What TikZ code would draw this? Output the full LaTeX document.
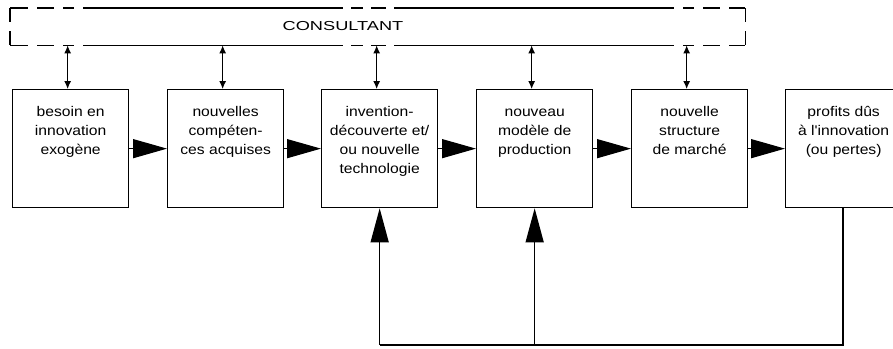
\documentclass[tikz,border=0pt]{standalone}
\usepackage{fontspec}
\setmainfont{Liberation Sans}
\newfontfamily\boxfont[FakeStretch=1.12]{Liberation Sans}
\newfontfamily\consfont[FakeStretch=1.4]{Liberation Sans}
\usetikzlibrary{arrows.meta}
\begin{document}
\begin{tikzpicture}[x=1pt,y=-1pt,
  stagebox/.style={draw,line width=1.3pt,minimum width=116pt,minimum height=118pt,anchor=north west,inner sep=0pt},
  stagetext/.style={anchor=north,align=center,font=\boxfont\fontsize{14}{19}\selectfont,inner sep=0pt},
  consbox/.style={minimum width=735pt,minimum height=37pt,anchor=north west,inner sep=0pt},
  hdash/.style={line width=1.3pt,dash pattern=on 18pt off 9pt on 17pt off 9pt on 11pt off 9pt on 260pt off 8pt on 12pt off 8pt on 15pt off 8pt on 280pt off 9pt on 11pt off 9pt on 17pt off 9pt on 30pt},
  vdash/.style={line width=1.3pt,dash pattern=on 14pt off 9pt on 20pt},
  flow/.style={line width=1.3pt,-{Triangle[length=34pt,width=19pt]}},
  feed/.style={line width=1.3pt,-{Triangle[length=34pt,width=18pt]}},
  link/.style={line width=1.1pt,{Latex[length=8pt,width=7pt]}-{Latex[length=8pt,width=7pt]}},
  plain/.style={line width=1.3pt}
]
\useasboundingbox (0,0) rectangle (893,348);
\node[consbox] (cons) at (10,8) {};
\draw[hdash] (cons.north west) -- (cons.north east);
\draw[hdash] (cons.south west) -- (cons.south east);
\draw[vdash] (cons.north west) -- (cons.south west);
\draw[vdash] (cons.north east) -- (cons.south east);
\node[font=\consfont\fontsize{13}{15}\selectfont] (constext) at (343,26) {CONSULTANT};

\node[stagebox] (b1) at (12,89) {};
\node[stagebox] (b2) at (167,89) {};
\node[stagebox] (b3) at (321,89) {};
\node[stagebox] (b4) at (476,89) {};
\node[stagebox] (b5) at (631,89) {};
\node[stagebox] (b6) at (785,89) {};

\node[stagetext] (t1) at ([yshift=-14pt]b1.north) {\strut besoin en\\innovation\\exogène};
\node[stagetext] (t2) at ([yshift=-14pt]b2.north) {\strut nouvelles\\compéten-\\ces acquises};
\node[stagetext] (t3) at ([yshift=-14pt]b3.north) {\strut invention-\\découverte et/\\ou nouvelle\\technologie};
\node[stagetext] (t4) at ([yshift=-14pt]b4.north) {\strut nouveau\\modèle de\\production};
\node[stagetext] (t5) at ([yshift=-14pt]b5.north) {\strut nouvelle\\structure\\de marché};
\node[stagetext] (t6) at ([yshift=-14pt]b6.north) {\strut profits dûs\\à l'innovation\\(ou pertes)};

\foreach \i in {1,...,5} {
  \draw[link] ([xshift=-3pt]b\i.north) -- ([xshift=-3pt]b\i.north |- cons.south);
}
\draw[flow] (b1.east) -- (b2.west);
\draw[flow] (b2.east) -- (b3.west);
\draw[flow] (b3.east) -- (b4.west);
\draw[flow] (b4.east) -- (b5.west);
\draw[flow] (b5.east) -- (b6.west);

\coordinate (fb) at (843,345);
\draw[plain] (b6.south -| fb) -- (fb) -- (fb -| b3.south);
\draw[feed] (fb -| b3.south) -- (b3.south);
\draw[feed] (fb -| b4.south) -- (b4.south);
\end{tikzpicture}
\end{document}
